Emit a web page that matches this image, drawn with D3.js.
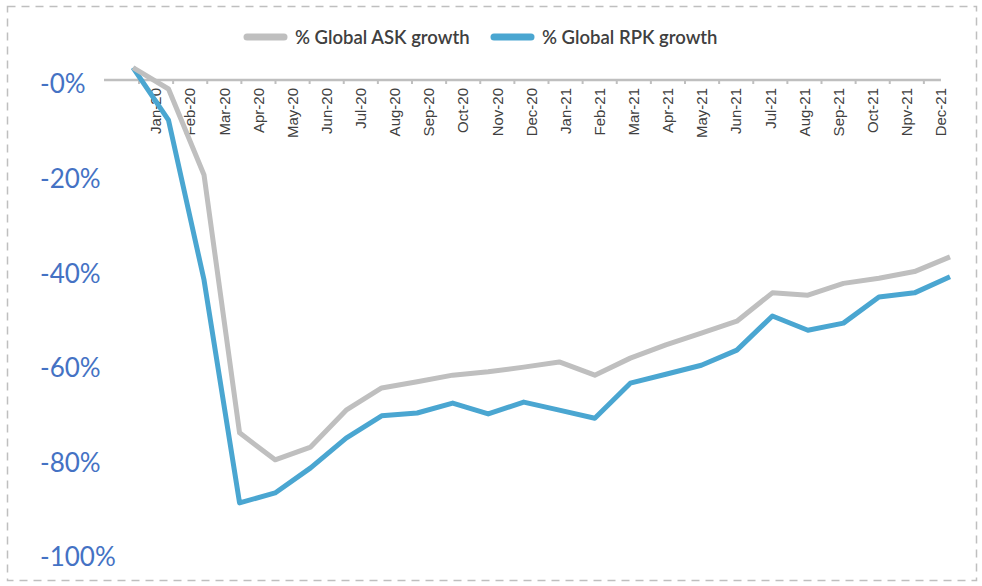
<!DOCTYPE html>
<html>
<head>
<meta charset="utf-8">
<script src="https://cdn.jsdelivr.net/npm/d3@7/dist/d3.min.js"></script>
<style>
  html, body { margin: 0; padding: 0; background: #fff; }
  svg { display: block; }
</style>
</head>
<body>
<svg id="chart" width="982" height="586"></svg>
<script>
// ---- data ----
const months = ["Jan-20","Feb-20","Mar-20","Apr-20","May-20","Jun-20","Jul-20","Aug-20","Sep-20","Oct-20","Nov-20","Dec-20",
                "Jan-21","Feb-21","Mar-21","Apr-21","May-21","Jun-21","Jul-21","Aug-21","Sep-21","Oct-21","Npv-21","Dec-21"];
const askGrowth = [2.6, -1.9, -20.1, -74.6, -80.3, -77.6, -69.8, -65.1, -63.8, -62.4, -61.7, -60.7,
                   -59.6, -62.4, -58.8, -56.0, -53.5, -51.0, -45.0, -45.5, -43.0, -41.9, -40.5, -37.4];
const rpkGrowth = [2.6, -8.5, -42.3, -89.4, -87.3, -82.0, -75.7, -71.0, -70.4, -68.3, -70.6, -68.1,
                   -69.8, -71.5, -64.1, -62.2, -60.3, -57.1, -49.9, -52.9, -51.4, -45.9, -45.0, -41.6];
const yTicks = [0, -20, -40, -60, -80, -100];
const yTickLabels = ["-0%", "-20%", "-40%", "-60%", "-80%", "-100%"];
const seriesNames = ["% Global ASK growth", "% Global RPK growth"];

// ---- layout ----
const svg = d3.select("#chart");
const GRAY = "#bfbfbf", BLUE = "#4aa6d1", TEXT = "#404040", YCOL = "#4472c4";

// dashed outer border
svg.append("rect").attr("x", 7.5).attr("y", 6.5).attr("width", 969).attr("height", 574)
  .attr("fill", "none").attr("stroke", GRAY).attr("stroke-width", 1.5)
  .attr("stroke-dasharray", "8,6");

const y = d3.scaleLinear().domain([-100, 0]).range([553, 80]);
const xLine = d3.scalePoint().domain(months).range([133, 950]);
const xBand = d3.scaleBand().domain(months).range([139, 958]).padding(0);

// y labels
svg.append("g").selectAll("text").data(yTicks).join("text")
  .attr("x", 40).attr("y", d => y(d) + 4)
  .attr("dy", "0.36em")
  .attr("fill", YCOL)
  .attr("font-family", "Lato, 'Open Sans', sans-serif")
  .attr("font-size", 26)
  .text((d, i) => yTickLabels[i]);

// x axis line at zero
const axisG = svg.append("g");
axisG.append("line")
  .attr("x1", 104).attr("x2", xBand(months[months.length - 1]) + xBand.bandwidth() / 2)
  .attr("y1", y(0)).attr("y2", y(0))
  .attr("stroke", GRAY).attr("stroke-width", 2.5);
axisG.selectAll("line.tick").data(months).join("line").attr("class", "tick")
  .attr("x1", d => xBand(d)).attr("x2", d => xBand(d))
  .attr("y1", y(0)).attr("y2", y(0) + 4)
  .attr("stroke", GRAY).attr("stroke-width", 2);
axisG.selectAll("text").data(months).join("text")
  .attr("transform", d => `translate(${xBand(d) + xBand.bandwidth() / 2},${y(0) + 8}) rotate(-90)`)
  .attr("text-anchor", "end").attr("dy", "0.35em")
  .attr("fill", TEXT)
  .attr("font-family", "'Liberation Sans', Arial, sans-serif")
  .attr("font-size", 15)
  .text(d => d);

// lines
const line = d3.line().x((d, i) => xLine(months[i])).y(d => y(d));
svg.append("path").datum(rpkGrowth).attr("d", line)
  .attr("fill", "none").attr("stroke", BLUE).attr("stroke-width", 5).attr("stroke-linejoin", "round");
svg.append("path").datum(askGrowth).attr("d", line)
  .attr("fill", "none").attr("stroke", GRAY).attr("stroke-width", 5).attr("stroke-linejoin", "round");

// legend
const legend = svg.append("g").attr("font-family", "Lato, 'Open Sans', sans-serif")
  .attr("font-size", 18.5).attr("font-weight", 600).attr("fill", TEXT);
const legendItems = [
  { name: seriesNames[0], color: GRAY, x: 244 },
  { name: seriesNames[1], color: BLUE, x: 491 }
];
legendItems.forEach(it => {
  legend.append("line").attr("x1", it.x + 3).attr("x2", it.x + 40)
    .attr("y1", 37).attr("y2", 37)
    .attr("stroke", it.color).attr("stroke-width", 7).attr("stroke-linecap", "round");
  legend.append("text").attr("x", it.x + 51).attr("y", 37).attr("dy", "0.36em").text(it.name);
});
</script>
</body>
</html>
